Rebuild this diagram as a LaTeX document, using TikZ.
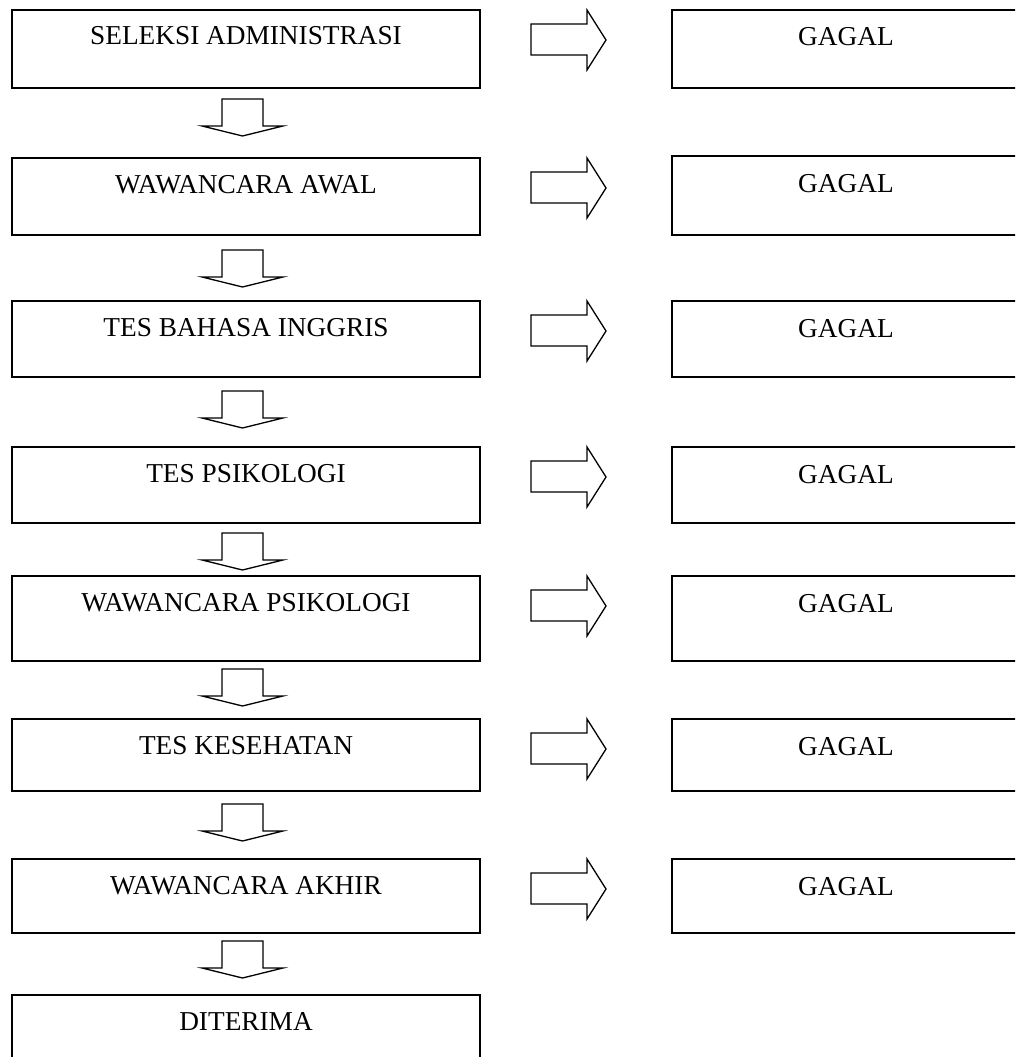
\documentclass[tikz,border=0pt]{standalone}
\usepackage{fontspec}
\setmainfont{Liberation Serif}
\usetikzlibrary{calc}
\begin{document}
\begin{tikzpicture}[x=1pt,y=-1pt,
  box/.style={draw, line width=1.8pt, anchor=north west, inner sep=0pt, outer sep=0pt},
  lbl/.style={anchor=base, inner sep=0pt, font=\fontsize{27.3}{32}\selectfont},
  blockarrow/.style={draw, line width=1.3pt, line join=miter, fill=white}]
\useasboundingbox (0,0) rectangle (1015,1057);
\clip (0,0) rectangle (1015,1057);
% left boxes: name / top / height / text
\foreach \n/\t/\h/\txt in {
  1/10/78/SELEKSI ADMINISTRASI,
  2/158/77/WAWANCARA AWAL,
  3/301/76/TES BAHASA INGGRIS,
  4/447/76/TES PSIKOLOGI,
  5/576/85/WAWANCARA PSIKOLOGI,
  6/719/72/TES KESEHATAN,
  7/859/74/WAWANCARA AKHIR,
  8/995/80/DITERIMA}{
  \node[box, minimum width=468pt, minimum height=\h pt] (L\n) at (12,\t) {};
  \node[lbl] (LT\n) at ($(L\n.north)+(0,35)$) {\txt};
}
% right boxes (GAGAL)
\foreach \n/\t/\h in {1/10/78, 2/156/79, 3/301/76, 4/447/76, 5/576/85, 6/719/72, 7/859/74}{
  \node[box, minimum width=350pt, minimum height=\h pt] (R\n) at (672,\t) {};
  \node[lbl] (RT\n) at ($(R\n.north west)+(174,36)$) {GAGAL};
  % right block arrow from left box to GAGAL box
  \coordinate (ra\n) at ($(L\n.north east)+(51,0)$);
  \draw[blockarrow, shift={(ra\n)}] (0,14) -- (56,14) -- (56,0) -- (75,30) -- (56,60) -- (56,45) -- (0,45) -- cycle;
}
% down block arrows between consecutive left boxes
\foreach \i/\y in {1/99, 2/250, 3/391, 4/533, 5/669, 6/804, 7/941}{
  \coordinate (da\i) at (242.5,\y);
  \draw[blockarrow, shift={(da\i)}] (-20.5,0) -- (20.5,0) -- (20.5,27) -- (40.5,27) -- (0,37) -- (-40.5,27) -- (-20.5,27) -- cycle;
}
\end{tikzpicture}
\end{document}
